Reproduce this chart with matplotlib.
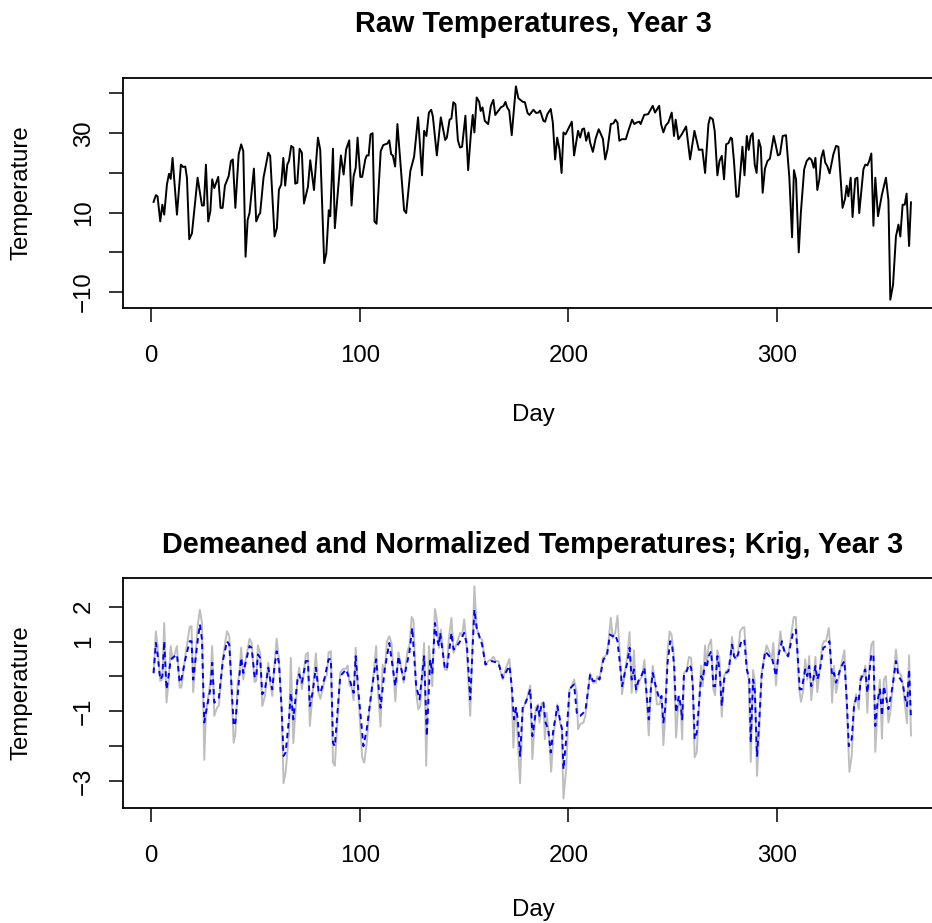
import matplotlib
matplotlib.use('Agg')
import matplotlib.pyplot as plt

plt.rcParams['font.family'] = ['Liberation Sans', 'DejaVu Sans']

# ── Year 3 raw daily temperatures (day, value at each turning point) ─────────
raw_day = [
    1.1, 2.2, 3.0, 4.3, 5.3, 6.2, 7.5, 8.5, 9.3, 10.2, 12.3, 14.2, 15.2, 16.3,
    17.1, 18.2, 19.5, 22.2, 24.3, 25.2, 26.2, 27.3, 28.3, 29.2, 30.2, 32.1,
    33.2, 34.2, 35.3, 37.1, 38.2, 39.1, 40.3, 41.9, 43.1, 44.1, 45.2, 46.2,
    47.1, 49.2, 50.3, 51.6, 52.2, 53.8, 56.1, 57.0, 59.1, 60.2, 61.2, 62.3,
    63.3, 64.2, 65.2, 66.0, 67.1, 68.1, 69.0, 70.0, 71.1, 72.2, 73.2, 75.1,
    76.2, 78.0, 79.9, 81.0, 82.9, 83.9, 85.1, 85.8, 87.1, 88.0, 90.9, 92.2,
    93.4, 94.9, 96.0, 97.0, 98.0, 98.9, 100.2, 101.1, 102.6, 103.3, 104.2,
    105.1, 106.1, 107.0, 108.0, 110.0, 111.2, 112.1, 113.2, 114.1, 115.0,
    115.8, 116.9, 118.0, 121.2, 122.2, 124.2, 126.0, 127.9, 129.8, 130.8,
    131.9, 133.1, 134.2, 135.0, 136.9, 138.8, 140.9, 141.7, 143.0, 143.9,
    144.8, 145.8, 147.0, 148.0, 149.0, 150.6, 151.9, 153.2, 154.1, 154.9,
    156.0, 157.2, 157.9, 158.8, 159.9, 161.5, 162.8, 164.0, 164.9, 166.5,
    167.6, 168.9, 169.8, 170.6, 171.6, 172.8, 174.8, 176.0, 178.1, 179.1,
    180.4, 181.3, 183.2, 184.5, 185.6, 186.4, 188.0, 188.8, 189.9, 191.5,
    192.5, 193.6, 194.6, 195.7, 196.7, 197.6, 198.6, 201.6, 202.7, 204.6,
    205.6, 206.6, 207.5, 208.5, 209.6, 210.4, 211.7, 213.0, 214.5, 216.5,
    217.6, 218.7, 220.3, 221.6, 222.5, 223.5, 224.4, 225.6, 227.5, 228.7,
    230.5, 231.6, 232.7, 234.0, 234.6, 236.3, 238.2, 240.4, 241.5, 243.5,
    244.4, 245.5, 246.6, 247.9, 249.5, 250.6, 251.4, 252.7, 254.3, 256.4,
    258.3, 260.4, 262.5, 264.2, 265.5, 267.1, 267.9, 269.2, 270.1, 271.4,
    272.4, 273.5, 274.6, 275.6, 276.7, 277.8, 278.4, 279.4, 280.5, 281.5,
    283.4, 284.4, 285.5, 286.4, 287.4, 288.3, 289.3, 290.2, 291.2, 292.2,
    293.1, 294.2, 295.4, 296.6, 298.4, 299.3, 300.4, 301.4, 302.7, 304.3,
    305.9, 307.2, 308.1, 309.1, 310.4, 311.4, 313.0, 314.2, 315.5, 316.6,
    317.6, 318.4, 319.3, 320.3, 321.2, 322.2, 323.1, 324.1, 325.2, 327.0,
    328.3, 329.4, 330.5, 331.4, 332.6, 333.4, 334.2, 335.3, 336.2, 337.5,
    338.5, 339.4, 341.4, 342.3, 343.3, 344.2, 345.2, 346.2, 347.1, 348.4,
    350.3, 352.2, 353.4, 354.3, 355.6, 357.0, 358.2, 359.1, 360.2, 361.2,
    362.1, 363.3, 364.2,
]
raw_temp = [
    12.7, 14.4, 14.1, 7.8, 12.0, 9.5, 17.1, 19.8, 18.5, 23.8, 9.5, 22.1, 21.5,
    21.6, 18.8, 3.3, 4.8, 18.8, 11.8, 11.8, 22.1, 7.8, 10.3, 18.4, 16.2, 19.0,
    11.2, 11.2, 16.8, 19.2, 23.0, 23.4, 11.2, 24.7, 27.2, 25.5, -1.1, 8.2, 9.9,
    21.1, 7.8, 9.5, 9.9, 18.8, 25.1, 24.3, 4.0, 6.1, 15.8, 17.1, 23.8, 16.8,
    22.1, 23.0, 26.8, 26.4, 17.3, 17.5, 26.1, 25.1, 12.3, 16.5, 23.2, 15.7,
    28.9, 25.8, -2.7, -0.2, 10.6, 9.1, 26.1, 6.1, 24.4, 19.6, 25.9, 28.2, 11.8,
    19.2, 21.3, 28.9, 19.0, 19.0, 23.4, 24.4, 24.4, 29.7, 30.0, 7.8, 7.2, 25.5,
    27.0, 27.2, 27.4, 28.2, 24.7, 24.4, 21.6, 32.3, 10.6, 9.9, 20.5, 24.1,
    34.0, 19.4, 30.6, 29.3, 35.2, 35.9, 34.2, 24.4, 34.0, 28.3, 28.9, 33.4,
    33.7, 37.8, 37.3, 28.2, 26.4, 26.6, 34.4, 20.7, 29.7, 34.6, 30.2, 39.0,
    37.9, 35.6, 36.5, 33.1, 32.3, 36.9, 38.4, 34.6, 35.7, 36.5, 36.9, 37.9,
    36.5, 35.7, 29.5, 41.8, 38.8, 37.9, 37.8, 35.1, 34.6, 35.9, 35.1, 35.2,
    35.7, 33.1, 32.9, 34.8, 36.1, 32.7, 23.4, 28.9, 25.9, 20.0, 30.2, 29.7,
    32.9, 24.4, 30.6, 28.9, 31.0, 31.2, 28.1, 30.2, 27.6, 25.3, 28.6, 31.0,
    28.6, 23.4, 25.9, 32.3, 32.5, 33.4, 32.7, 28.1, 28.5, 28.5, 30.6, 33.4,
    32.3, 32.7, 32.9, 32.3, 34.6, 34.8, 36.9, 35.2, 36.9, 32.3, 30.2, 31.9,
    32.7, 35.2, 29.3, 33.4, 28.5, 29.7, 31.7, 23.4, 30.6, 25.8, 25.9, 20.0,
    32.3, 34.0, 33.5, 30.6, 19.4, 23.0, 24.3, 18.4, 27.2, 27.5, 28.9, 28.6,
    22.6, 14.0, 14.1, 26.6, 19.4, 29.3, 25.8, 29.3, 30.0, 22.1, 20.0, 28.3,
    26.4, 15.0, 21.1, 23.0, 23.6, 29.3, 27.2, 24.4, 24.7, 29.3, 29.5, 18.8,
    3.8, 20.7, 18.4, 0.0, 9.9, 20.9, 23.0, 23.8, 23.2, 21.3, 23.8, 15.7, 18.4,
    23.8, 25.7, 22.6, 21.7, 19.9, 24.7, 26.8, 26.6, 18.4, 11.2, 13.5, 16.8,
    14.1, 18.8, 8.9, 18.5, 18.8, 9.9, 20.9, 22.1, 21.9, 23.0, 24.9, 6.7, 18.8,
    9.1, 14.6, 18.8, 13.1, -11.9, -8.2, 4.0, 7.0, 4.0, 12.0, 12.0, 14.8, 1.6,
    12.6,
]

# ── demeaned / normalized observations (gray) ────────────────────────────────
norm_day = [
    1.1, 2.2, 3.0, 4.3, 5.3, 6.2, 7.3, 8.3, 9.3, 10.2, 11.2, 12.3, 13.6, 14.4,
    16.3, 18.4, 19.3, 20.1, 22.2, 23.3, 24.3, 25.4, 26.2, 28.3, 29.2, 30.2,
    31.5, 32.4, 34.3, 36.3, 37.4, 39.5, 40.3, 41.4, 42.2, 43.1, 44.1, 45.2,
    47.1, 48.1, 49.5, 50.3, 51.1, 52.2, 53.2, 54.5, 56.1, 57.0, 58.0, 58.9,
    60.1, 61.2, 62.5, 63.4, 64.4, 65.2, 66.0, 66.9, 68.1, 69.0, 70.1, 70.9,
    72.2, 74.1, 75.1, 76.0, 77.3, 78.9, 80.2, 81.1, 83.1, 84.2, 85.0, 86.1,
    87.1, 88.0, 90.6, 91.9, 93.4, 94.1, 95.1, 96.0, 97.0, 98.0, 99.2, 101.1,
    102.1, 103.3, 104.6, 105.9, 106.8, 107.8, 108.9, 109.9, 110.9, 111.9,
    113.0, 114.1, 115.2, 117.0, 118.5, 121.0, 122.8, 123.8, 124.8, 125.7,
    127.0, 128.0, 128.9, 130.8, 131.8, 133.1, 134.7, 136.0, 136.9, 137.9,
    138.8, 140.7, 141.7, 142.6, 143.9, 144.9, 146.5, 148.1, 149.0, 150.0,
    151.0, 152.9, 154.1, 154.9, 156.0, 157.3, 158.6, 160.2, 161.5, 163.1,
    164.0, 165.2, 166.4, 167.6, 168.5, 170.1, 171.7, 172.8, 173.6, 174.6,
    175.2, 176.8, 178.1, 179.1, 180.4, 181.7, 182.7, 184.3, 185.4, 186.1,
    187.1, 188.0, 188.7, 189.6, 190.8, 191.7, 192.8, 194.7, 195.9, 196.8,
    197.6, 198.9, 200.5, 201.6, 202.7, 204.0, 204.6, 205.6, 207.2, 208.1,
    210.4, 211.7, 213.0, 213.9, 214.9, 216.5, 218.0, 219.0, 220.3, 221.2,
    222.4, 223.5, 224.4, 225.7, 227.0, 228.2, 229.3, 230.3, 231.4, 232.4,
    233.5, 235.3, 236.4, 238.5, 239.5, 240.4, 241.4, 242.4, 243.6, 244.6,
    245.5, 246.3, 247.5, 248.5, 249.4, 250.4, 251.6, 252.9, 253.9, 254.5,
    255.4, 256.7, 257.8, 258.8, 259.6, 260.5, 261.5, 263.6, 264.4, 265.5,
    266.3, 267.2, 268.4, 269.5, 270.3, 271.4, 272.4, 273.5, 274.6, 275.6,
    276.7, 277.5, 278.4, 279.4, 280.3, 281.3, 282.3, 283.3, 284.3, 285.5,
    286.4, 287.4, 288.5, 289.3, 290.4, 291.5, 292.6, 293.8, 295.0, 296.3,
    297.4, 298.2, 299.5, 300.6, 301.6, 302.6, 303.7, 305.3, 306.9, 308.0,
    309.0, 309.6, 310.6, 311.5, 312.6, 313.5, 314.5, 315.4, 316.4, 317.4,
    318.4, 319.3, 320.3, 321.6, 322.5, 323.5, 324.8, 325.4, 326.4, 327.3,
    328.3, 329.4, 330.5, 332.3, 333.4, 334.7, 335.8, 336.9, 337.9, 339.2,
    340.1, 341.4, 342.3, 343.3, 344.2, 345.2, 346.2, 347.1, 348.3, 349.3,
    350.3, 351.2, 352.2, 353.4, 354.3, 355.4, 357.0, 358.2, 359.3, 360.2,
    361.2, 362.3, 363.3, 364.2,
]
norm_obs = [
    0.10, 1.29, 0.87, -0.13, -0.09, 1.53, -0.75, -0.13, 0.87, 0.49, 0.63, 0.87,
    -0.32, -0.32, 0.58, 1.42, 1.44, -0.45, 1.44, 1.91, 1.53, -2.39, -1.04,
    -0.18, 0.87, -1.13, -0.90, -0.83, 0.53, 1.29, 1.15, -1.90, -1.66, -0.18,
    0.06, 0.82, -0.09, 0.44, 1.08, 0.96, -0.16, -0.13, 0.89, 0.68, -0.85,
    -0.56, 0.39, -0.18, -0.56, 0.20, 1.08, 0.49, -0.94, -3.06, -2.75, -2.18,
    -1.63, 0.53, -1.91, -1.09, -0.09, 0.25, -0.37, 0.63, 0.68, -1.42, -0.51,
    0.66, -0.47, -0.64, -0.09, 0.06, 0.69, 0.72, -2.47, -2.56, 0.10, 0.22,
    0.22, 0.31, -0.26, -0.30, -0.68, 0.82, -0.47, -2.32, -2.47, -1.90, -0.94,
    -0.32, 0.20, 0.87, -0.56, -1.44, 0.34, 0.10, 1.01, 1.15, 0.94, -0.71, 0.69,
    -0.18, 0.72, 0.91, 1.70, 1.61, -0.47, -0.94, -0.85, 0.96, -2.56, 0.87,
    -0.28, 1.93, 1.63, 0.82, 1.34, 0.20, 0.18, 1.06, 1.68, 0.68, 0.96, 1.25,
    1.15, 1.63, 1.06, -1.13, 1.15, 2.58, 1.39, 1.10, 1.06, 0.34, 0.44, 0.49,
    0.56, 0.44, 0.44, 0.10, -0.09, 0.25, 0.50, -0.37, -2.04, -0.90, -1.23,
    -3.06, -0.94, -0.80, -0.56, -0.26, -2.37, -0.90, -0.80, -1.32, -0.77,
    -0.75, -1.80, -1.04, -1.80, -2.73, -1.70, -0.80, -1.32, -1.47, -3.50,
    -2.66, -0.37, -0.28, -0.09, -0.47, -1.51, -1.37, -1.32, -1.13, 0.09, -0.18,
    -0.18, 0.01, -0.07, 0.53, 0.60, 0.89, 1.68, 1.10, 1.25, 1.74, 0.87, -0.51,
    0.10, 0.58, 1.27, -0.47, 0.75, -0.47, -0.18, 0.01, 0.47, -1.69, -0.37,
    0.30, -0.09, -0.80, -0.80, -0.56, -1.97, -1.23, 0.72, 1.29, 1.20, 0.68,
    -1.75, -0.56, -0.94, -1.80, 0.10, 0.20, 0.56, 0.53, -0.26, -2.32, -2.18,
    0.31, -0.28, 0.89, 0.30, 0.87, 1.06, -0.37, -0.54, 0.75, 0.49, -1.15, 0.01,
    0.15, 0.18, 0.39, 1.13, 0.60, 0.50, 0.66, 1.29, 1.39, 1.41, 0.30, -0.09,
    -2.45, 0.18, -0.13, -2.85, -1.51, 0.10, 0.53, 0.89, 0.69, 0.49, 0.96,
    -0.26, 0.68, 1.29, 0.82, 0.72, 0.56, 1.25, 1.70, 1.70, 0.87, -0.37, -0.73,
    -0.37, 0.49, -0.09, 0.58, -0.68, -0.09, 0.56, -0.45, 0.10, 0.87, 1.01,
    1.01, 1.39, 0.96, -0.75, 0.30, -0.47, -0.09, 0.25, 0.75, -0.80, -2.73,
    -2.28, -0.85, -0.51, -0.94, 0.01, 0.01, 0.31, -1.04, 0.25, 0.91, 1.01,
    -2.16, -0.80, -0.09, -1.78, -0.09, 0.01, -1.32, -1.04, -0.32, 0.77, 0.10,
    0.06, -0.18, -0.75, -1.34, 0.60, -1.69,
]

# ── kriging fit (blue dashed) ────────────────────────────────────────────────
krig_day = [
    1.1, 2.2, 3.0, 4.3, 5.3, 6.2, 7.3, 8.3, 9.3, 12.3, 13.6, 14.4, 16.3, 18.4,
    19.3, 20.1, 22.2, 23.3, 24.3, 25.4, 26.2, 28.3, 29.2, 30.2, 32.4, 34.3,
    36.3, 37.4, 39.5, 40.3, 42.2, 43.1, 44.1, 45.2, 47.1, 48.1, 49.5, 50.3,
    51.1, 52.2, 53.2, 54.5, 56.1, 57.0, 58.0, 58.9, 60.1, 61.2, 62.5, 63.4,
    64.4, 66.0, 66.9, 68.1, 70.1, 70.9, 72.2, 74.1, 75.1, 76.0, 77.3, 78.9,
    80.2, 81.1, 83.1, 85.0, 86.1, 87.1, 88.0, 90.6, 93.4, 95.1, 97.0, 98.0,
    99.2, 101.7, 103.3, 105.9, 107.8, 109.9, 111.9, 114.1, 117.0, 118.5,
    121.0, 123.8, 125.1, 127.0, 128.6, 130.8, 132.1, 133.7, 134.7, 136.0,
    136.9, 137.9, 138.5, 140.7, 141.7, 143.9, 144.9, 146.5, 148.1, 150.0,
    151.3, 152.9, 154.9, 156.0, 158.6, 160.2, 163.1, 166.4, 168.5, 171.7,
    172.8, 173.9, 174.9, 175.7, 176.8, 178.1, 179.1, 180.4, 181.7, 182.7,
    184.3, 185.4, 186.1, 187.1, 188.0, 189.0, 190.3, 191.5, 192.8, 194.7,
    195.9, 196.9, 197.6, 198.9, 200.5, 201.8, 202.7, 204.0, 204.6, 205.6,
    208.1, 210.4, 211.7, 213.0, 213.9, 214.9, 216.8, 218.4, 219.9, 221.2,
    222.4, 223.5, 224.8, 225.7, 227.0, 228.2, 229.3, 230.3, 231.4, 232.4,
    233.5, 235.3, 236.4, 238.5, 239.5, 240.4, 241.4, 243.6, 244.6, 245.5,
    246.5, 247.5, 248.8, 249.7, 250.7, 251.6, 252.9, 253.9, 254.5, 255.4,
    256.7, 257.8, 258.8, 259.6, 260.5, 261.5, 263.6, 264.4, 265.5, 266.3,
    267.2, 268.4, 269.5, 270.3, 271.4, 272.4, 273.5, 274.6, 275.6, 276.7,
    278.4, 279.4, 280.3, 281.3, 282.6, 284.3, 285.5, 286.7, 287.4, 288.5,
    289.3, 290.4, 291.5, 292.6, 294.3, 296.3, 297.4, 299.5, 300.6, 302.3,
    303.7, 305.3, 307.8, 309.0, 309.6, 310.9, 311.8, 313.5, 314.5, 315.4,
    316.4, 317.4, 318.4, 319.3, 320.3, 322.2, 323.5, 325.1, 326.4, 327.3,
    328.3, 330.5, 332.3, 333.4, 334.4, 335.8, 336.9, 338.2, 339.2, 340.1,
    342.3, 343.3, 345.2, 346.2, 347.1, 348.3, 349.3, 350.3, 351.2, 353.4,
    355.4, 357.0, 358.2, 360.2, 361.2, 362.3, 363.3, 364.2,
]
krig_fit = [
    0.10, 0.96, 0.63, -0.09, 0.01, 1.01, -0.37, 0.01, 0.49, 0.63, -0.18, -0.09,
    0.49, 1.01, 1.01, -0.09, 1.01, 1.49, 1.06, -1.32, -1.04, -0.37, 0.39,
    -0.75, -0.61, 0.44, 1.01, 0.91, -1.42, -1.32, 0.01, 0.53, 0.10, 0.39, 0.87,
    0.82, 0.01, -0.04, 0.63, 0.53, -0.51, -0.37, 0.25, -0.09, -0.37, 0.20,
    0.72, 0.39, -0.94, -2.28, -2.18, -1.23, -0.47, -1.23, -0.09, 0.06, -0.18,
    0.44, 0.44, -0.85, -0.47, 0.25, -0.42, -0.47, -0.04, 0.49, 0.50, -1.90,
    -2.00, 0.01, 0.20, -0.09, -0.47, 0.58, -0.37, -2.00, -1.51, -0.28, 0.49,
    -0.90, 0.20, 0.96, -0.28, 0.58, -0.09, 0.72, 1.39, -0.28, -0.66, 0.58,
    -1.71, 0.49, 0.10, 1.53, 1.10, 0.87, 1.25, 0.25, 0.20, 1.25, 0.77, 0.87,
    1.01, 1.25, 0.91, -0.66, 1.91, 1.39, 0.91, 0.34, 0.44, 0.39, -0.04, 0.30,
    -0.28, -1.23, -0.90, -1.23, -2.28, -0.85, -0.80, -0.61, -0.37, -1.71,
    -1.04, -0.85, -1.13, -0.80, -0.75, -1.32, -1.51, -2.18, -1.51, -0.85,
    -1.23, -1.51, -2.66, -1.80, -0.37, -0.28, -0.23, -1.04, -1.13, -1.13,
    -0.99, 0.06, -0.13, -0.13, -0.04, -0.09, 0.49, 0.58, 1.20, 1.15, 1.20,
    1.01, 0.30, -0.28, 0.10, 0.39, 0.82, -0.09, 0.20, -0.37, -0.13, 0.06, 0.25,
    -1.23, -0.37, 0.10, -0.18, -0.66, -0.56, -1.32, -0.85, 0.39, 1.01, 0.87,
    0.30, -1.04, -0.56, -0.85, -1.23, 0.10, 0.15, 0.34, 0.25, -0.28, -1.80,
    -1.61, 0.01, -0.09, 0.39, 0.25, 0.58, 0.72, -0.28, -0.28, 0.58, 0.20,
    -0.85, -0.09, 0.10, 0.15, 0.91, 0.58, 0.49, 0.63, 0.96, 1.06, 0.20, -0.09,
    -1.90, -0.09, -0.37, -2.28, -1.23, 0.01, 0.72, 0.58, 0.58, 0.01, 0.58,
    1.01, 0.68, 0.58, 1.29, 1.34, 0.87, -0.37, -0.37, 0.20, 0.01, 0.30, -0.28,
    -0.09, 0.30, -0.09, 0.10, 0.82, 0.87, 1.01, 0.01, 0.10, -0.18, 0.25, 0.44,
    -0.66, -2.00, -1.80, -0.85, -0.56, -0.66, -0.09, 0.20, -0.47, 0.63, 0.63,
    -1.42, -0.66, -0.37, -1.13, -0.28, -0.94, -0.28, 0.44, 0.01, -0.18, -0.56,
    -0.85, 0.20, -1.23,
]

day_ticks = [0, 100, 200, 300]
raw_ticks = [-10, 0, 10, 20, 30, 40]
raw_tick_labels = ['\u221210', '', '10', '', '30', '']
norm_ticks = [-3, -2, -1, 0, 1, 2]
norm_tick_labels = ['\u22123', '', '\u22121', '', '1', '2']

FS = 17.3


def style_axes(ax, yticks, ylabels, xpad):
    ax.set_xticks(day_ticks)
    ax.set_xticklabels([str(d) for d in day_ticks])
    ax.set_yticks(yticks)
    ax.set_yticklabels(ylabels, rotation=90, va='center')
    ax.tick_params(axis='both', direction='out', length=10.4, width=1.1,
                   labelsize=FS)
    ax.tick_params(axis='x', pad=16)
    ax.tick_params(axis='y', pad=10)
    for sp in ax.spines.values():
        sp.set_linewidth(1.3)
    ax.set_xlim(-13.56, 379.56)
    ax.set_xlabel('Day', fontsize=FS, labelpad=xpad)
    ax.set_ylabel('Temperature', fontsize=FS, labelpad=29)


fig = plt.figure(figsize=(9.32, 9.23), dpi=100)

# the plot region runs a little past the right edge of the canvas
ax1 = fig.add_axes([123 / 932, 1 - 308 / 923, 820 / 932, 230 / 923])
ax1.plot(raw_day, raw_temp, color='black', lw=1.4)
ax1.set_ylim(-14.0, 43.9)
style_axes(ax1, raw_ticks, raw_tick_labels, 27)
ax1.set_title('Raw Temperatures, Year 3', fontsize=FS * 1.2,
              fontweight='bold', pad=33)

ax2 = fig.add_axes([123 / 932, 1 - 808 / 923, 820 / 932, 230 / 923])
ax2.plot(norm_day, norm_obs, color='#BEBEBE', lw=1.4)
ax2.plot(krig_day, krig_fit, color='blue', lw=1.4, dashes=(2.8, 2.2))
ax2.set_ylim(-3.77, 2.82)
style_axes(ax2, norm_ticks, norm_tick_labels, 23)
ax2.set_title('Demeaned and Normalized Temperatures; Krig, Year 3',
              fontsize=FS * 1.2, fontweight='bold', pad=18)

fig.savefig('out.png', dpi=100)
